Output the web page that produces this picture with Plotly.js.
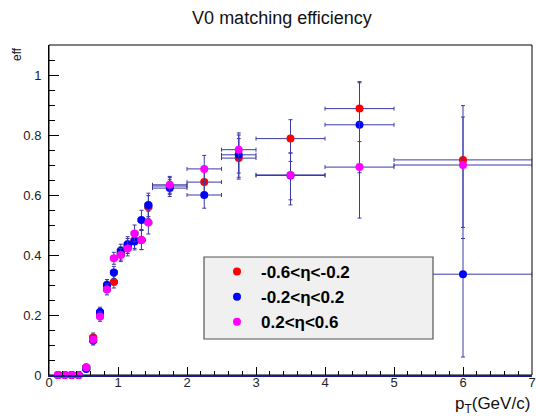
<!DOCTYPE html>
<html>
<head>
<meta charset="utf-8">
<script src="https://cdn.plot.ly/plotly-3.0.1.min.js"></script>
<style>html,body{margin:0;padding:0;background:#fff;}#plot{width:536px;height:418px;}</style>
</head>
<body>
<div id="plot"></div>
<script>
// pT bin centres and half-widths (GeV/c)
var pt      = [0.13,0.23,0.33,0.43,0.54,0.64,0.74,0.84,0.94,1.04,1.14,1.24,1.34,1.44,1.75,2.25,2.75,3.5,4.5,6.0];
var ptErr   = [0.05,0.05,0.05,0.05,0.05,0.05,0.05,0.05,0.05,0.05,0.05,0.05,0.05,0.05,0.25,0.25,0.25,0.5,0.5,1.0];

// efficiencies
var effNeg  = [0,0,0,0,0.025,0.125,0.205,0.300,0.310,0.405,0.430,0.450,0.450,0.560,0.630,0.643,0.723,0.788,0.888,0.717];
var effMid  = [0,0,0,0,0.020,0.115,0.210,0.300,0.342,0.414,0.436,0.445,0.517,0.567,0.623,0.600,0.734,0.665,0.834,0.336];
var effPos  = [0,0,0,0,0.026,0.118,0.195,0.285,0.389,0.400,0.422,0.472,0.450,0.508,0.634,0.687,0.751,0.667,0.693,0.700];

// asymmetric errors (up / down)
var negUp   = [0,0,0,0,0.010,0.015,0.016,0.018,0.020,0.022,0.025,0.028,0.032,0.038,0.028,0.045,0.065,0.063,0.090,0.181];
var negDn   = [0,0,0,0,0.010,0.015,0.016,0.018,0.020,0.022,0.025,0.028,0.032,0.038,0.028,0.045,0.070,0.076,0.110,0.225];
var midUp   = [0,0,0,0,0.010,0.015,0.016,0.018,0.020,0.022,0.025,0.028,0.032,0.039,0.028,0.045,0.066,0.075,0.140,0.119];
var midDn   = [0,0,0,0,0.010,0.015,0.016,0.018,0.020,0.022,0.025,0.028,0.032,0.039,0.028,0.044,0.075,0.098,0.160,0.276];
var posUp   = [0,0,0,0,0.010,0.015,0.016,0.018,0.020,0.022,0.025,0.028,0.032,0.038,0.028,0.045,0.056,0.073,0.150,0.160];
var posDn   = [0,0,0,0,0.010,0.015,0.016,0.018,0.020,0.022,0.025,0.028,0.032,0.038,0.028,0.045,0.078,0.083,0.170,0.245];

var names   = ['-0.6<\u03b7<-0.2','-0.2<\u03b7<0.2','0.2<\u03b7<0.6'];
var colors  = ['#ff0000','#0000ff','#ff00ff'];

var ebColor = '#3a3aa6';
function mk(y, up, dn, name, color){
  return {
    type:'scatter', mode:'markers', x:pt, y:y, name:name,
    marker:{color:color, size:8, symbol:'circle'},
    error_x:{type:'data', symmetric:true, array:ptErr, color:ebColor, thickness:1, width:2},
    error_y:{type:'data', symmetric:false, array:up, arrayminus:dn, color:ebColor, thickness:1, width:2},
    cliponaxis:false
  };
}
var data = [
  mk(effNeg, negUp, negDn, names[0], colors[0]),
  mk(effMid, midUp, midDn, names[1], colors[1]),
  mk(effPos, posUp, posDn, names[2], colors[2])
];

var tickFont = {family:'Liberation Sans, Arial, sans-serif', size:13, color:'#222'};
var layout = {
  width:536, height:418,
  margin:{l:49, r:4, t:45, b:43, pad:0},
  paper_bgcolor:'#ffffff', plot_bgcolor:'#ffffff',
  showlegend:true,
  title:{text:'V0 matching efficiency', x:282/536, xref:'container', xanchor:'center', y:1-18/418, yanchor:'middle', yref:'container',
         font:{family:'Liberation Sans, Arial, sans-serif', size:18, color:'#111'}},
  xaxis:{range:[0,7], dtick:1, tick0:0, ticks:'inside', ticklen:8, tickcolor:'#000', tickwidth:1,
         minor:{dtick:0.2, ticks:'inside', ticklen:4, tickcolor:'#000', tickwidth:1, showgrid:false},
         showgrid:false, zeroline:false, showline:true, linecolor:'#1a1a8c', linewidth:2,
         tickfont:tickFont, ticklabelstandoff:-6, fixedrange:true},
  yaxis:{range:[0,1.1], dtick:0.2, tick0:0, ticks:'inside', ticklen:10, tickcolor:'#000', tickwidth:1,
         minor:{dtick:0.05, ticks:'inside', ticklen:6, tickcolor:'#000', tickwidth:1, showgrid:false},
         showgrid:false, zeroline:false, showline:true, linecolor:'#000', linewidth:1,
         tickfont:tickFont, ticklabelstandoff:4, fixedrange:true},
  legend:{x:(213-49)/483, xanchor:'left', y:(375-254)/330, yanchor:'top',
          bgcolor:'rgba(0,0,0,0)', borderwidth:0, itemwidth:38,
          font:{family:'Liberation Sans, Arial, sans-serif', size:17, color:'#000', weight:'bold'},
          tracegroupgap:0},
  shapes:[
    {type:'rect', xref:'paper', yref:'paper', x0:0, x1:1, y0:0, y1:1, line:{color:'#000', width:1}, layer:'below'},
    {type:'rect', xref:'paper', yref:'paper', x0:(204-49)/483, x1:(433-49)/483, y0:(375-339)/330, y1:(375-257)/330,
     fillcolor:'#f0f0f0', line:{color:'#555', width:1.2}, layer:'above'}
  ],
  annotations:[
    {text:'eff', xref:'paper', yref:'paper', x:-32/483, y:1, xanchor:'center', yanchor:'top', textangle:-90, showarrow:false,
     font:{family:'Liberation Sans, Arial, sans-serif', size:12, color:'#111'}},
    {text:'p<sub>T</sub>(GeV/c)', xref:'paper', yref:'paper', x:1, y:-30/330, xanchor:'right', yanchor:'middle', showarrow:false,
     font:{family:'Liberation Sans, Arial, sans-serif', size:17, color:'#111'}}
  ]
};
Plotly.newPlot('plot', data, layout, {displayModeBar:false, staticPlot:true});
</script>
</body>
</html>
